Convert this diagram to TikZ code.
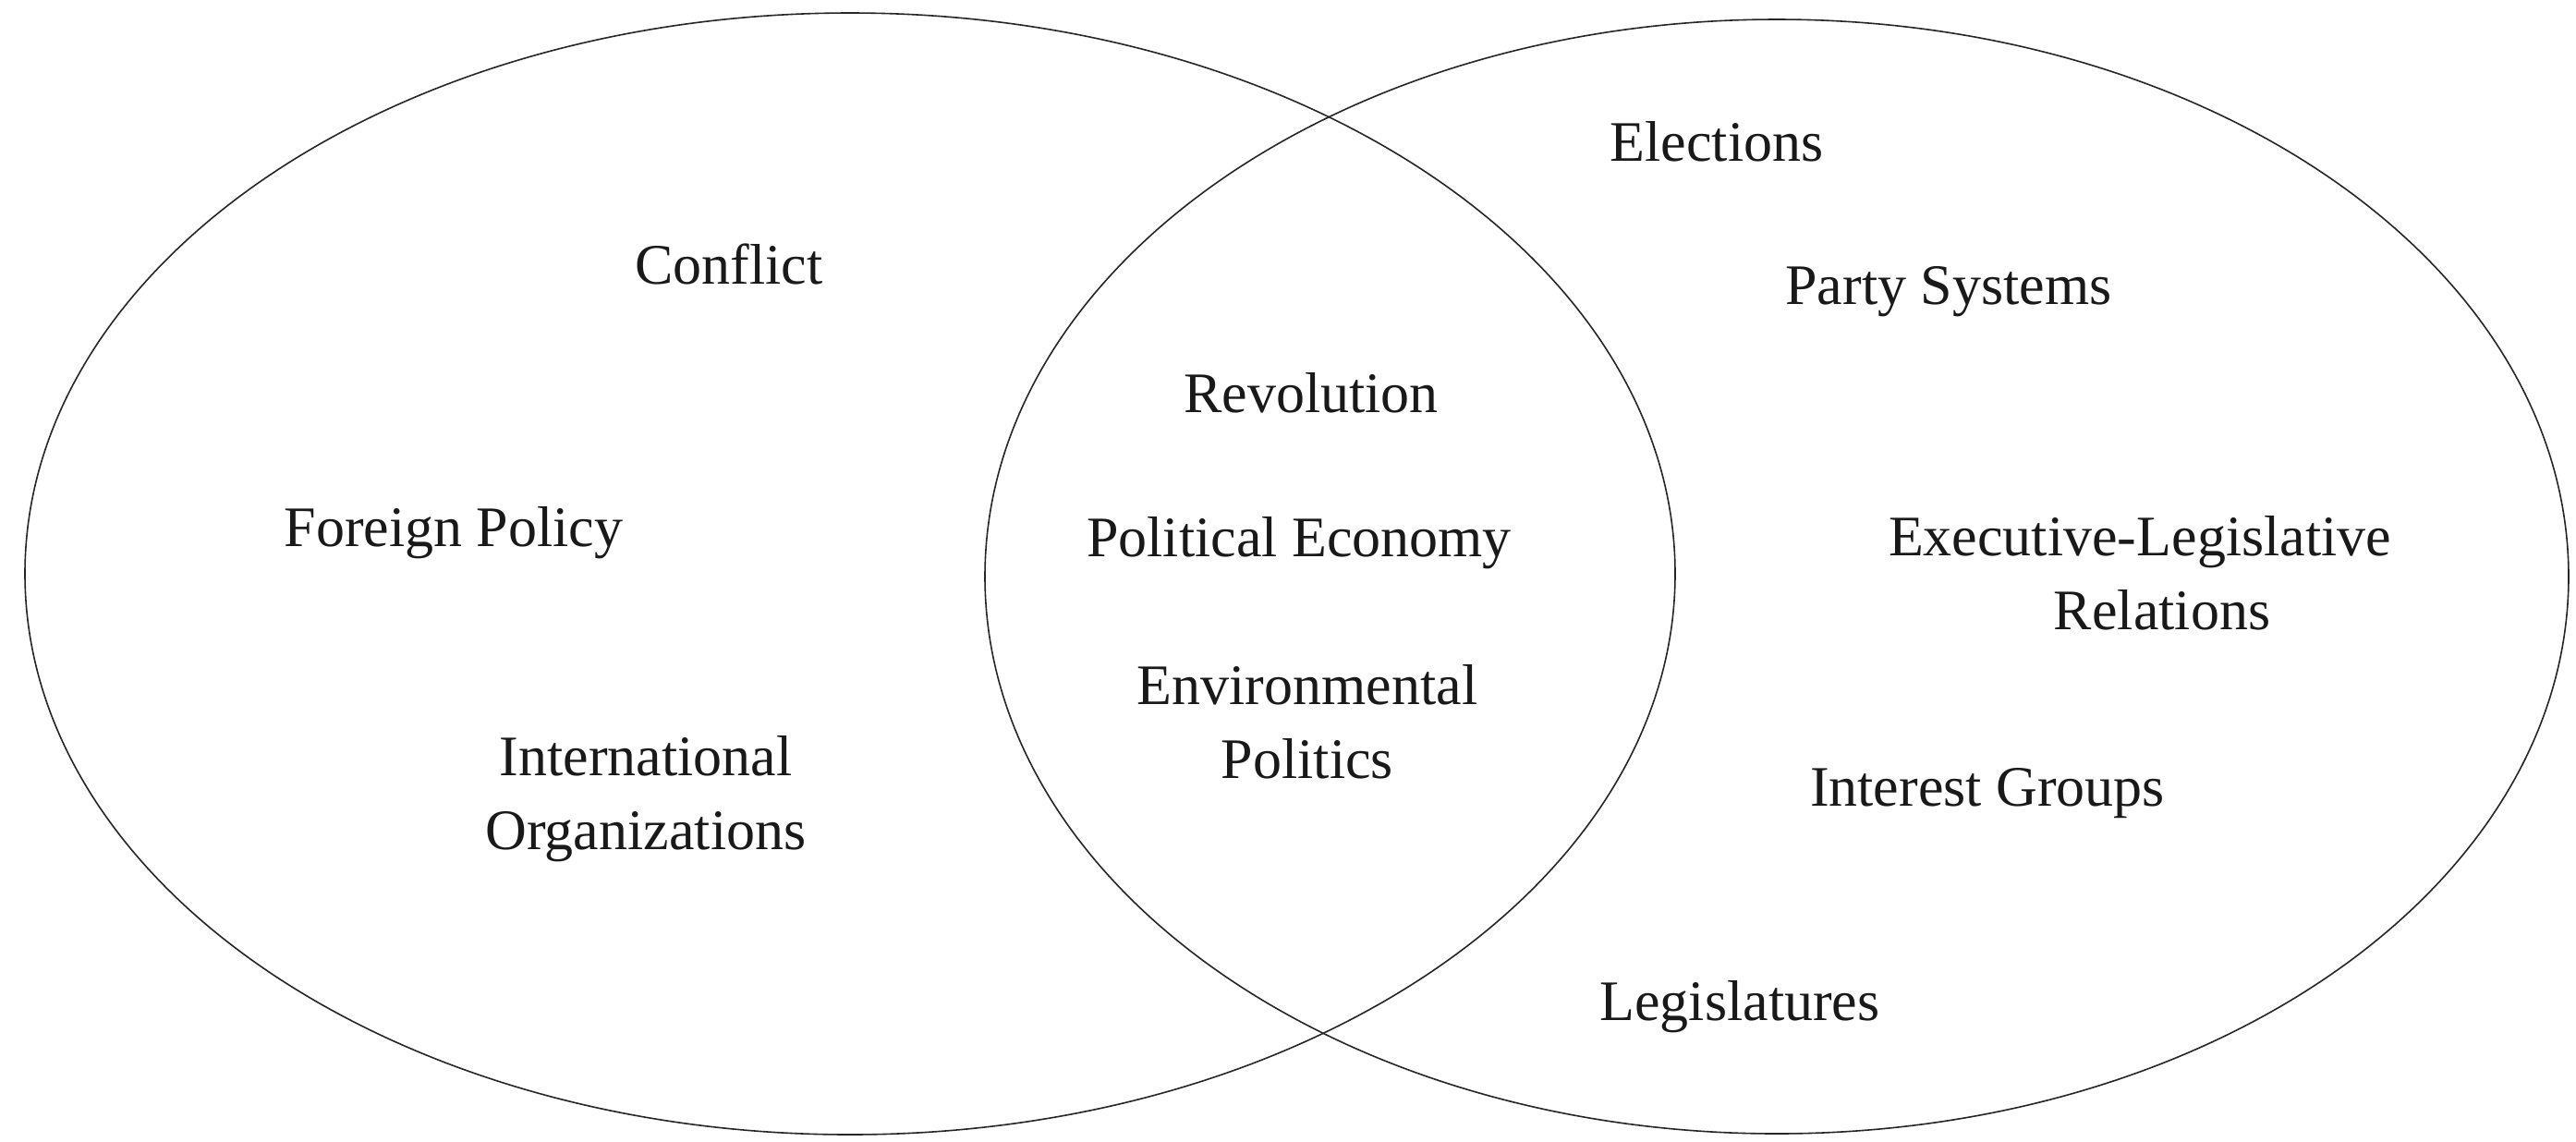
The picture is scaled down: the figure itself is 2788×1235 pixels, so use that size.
\documentclass[tikz,border=0pt]{standalone}
\usepackage{fontspec}
\setmainfont{Liberation Serif}
\begin{document}
\begin{tikzpicture}[x=0.25pt,y=-0.25pt,
  lbl/.style={inner sep=0pt,align=center,text=black!90,font=\fontsize{15.5pt}{20pt}\selectfont},
  circ/.style={draw=black!85,line width=0.4pt}]
\useasboundingbox (0,0) rectangle (2788,1235);
\fill[white] (0,0) rectangle (2788,1235);
\draw[circ] (920,621) ellipse [x radius=893, y radius=607];
\draw[circ] (1923,624) ellipse [x radius=857, y radius=603];
\node[lbl] (conflict) at (789,286) {Conflict};
\node[lbl] (foreign) at (491,577) {Foreign Policy};
\node[lbl] (intorg) at (699,865) {International\\Organizations};
\node[lbl] (revolution) at (1419,425) {Revolution};
\node[lbl] (polecon) at (1406,588) {Political Economy};
\node[lbl] (envpol) at (1415,781) {Environmental\\Politics};
\node[lbl] (elections) at (1858,153) {Elections};
\node[lbl] (party) at (2109,316) {Party Systems};
\node[lbl] (execleg) at (2316,620) {Executive-Legislative\\\hspace*{12pt}Relations};
\node[lbl] (interest) at (2151,859) {Interest Groups};
\node[lbl] (legis) at (1883,1090) {Legislatures};
\end{tikzpicture}
\end{document}
